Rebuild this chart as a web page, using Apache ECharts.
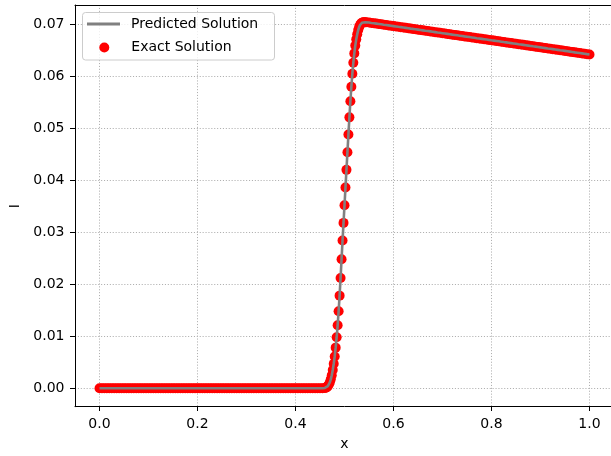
<!DOCTYPE html>
<html><head><meta charset="utf-8">
<script src="https://cdn.jsdelivr.net/npm/echarts@6/dist/echarts.min.js"></script>
<style>html,body{margin:0;padding:0;background:#fff;overflow:hidden}#c{width:614px;height:456px}</style>
</head><body><div id="c"></div><script>
// flat part (x < 0.46)
const xLow=[0,0.005,0.01,0.015,0.02,0.025,0.03,0.035,0.04,0.045,
0.05,0.055,0.06,0.065,0.07,0.075,0.08,0.085,0.09,0.095,
0.1,0.105,0.11,0.115,0.12,0.125,0.13,0.135,0.14,0.145,
0.15,0.155,0.16,0.165,0.17,0.175,0.18,0.185,0.19,0.195,
0.2,0.205,0.21,0.215,0.22,0.225,0.23,0.235,0.24,0.245,
0.25,0.255,0.26,0.265,0.27,0.275,0.28,0.285,0.29,0.295,
0.3,0.305,0.31,0.315,0.32,0.325,0.33,0.335,0.34,0.345,
0.35,0.355,0.36,0.365,0.37,0.375,0.38,0.385,0.39,0.395,
0.4,0.405,0.41,0.415,0.42,0.425,0.43,0.435,0.44,0.445,
0.45,0.455];
const yLow=[0,0,0,0,0,0,0,0,0,0,
0,0,0,0,0,0,0,0,0,0,
0,0,0,0,0,0,0,0,0,0,
0,0,0,0,0,0,0,0,0,0,
0,0,0,0,0,0,0,0,0,0,
0,0,0,0,0,0,0,0,0,0,
0,0,0,0,0,0,0,0,0,0,
0,0,0,0,0,0,0,0,0,0,
0,0,0,0,0,0,0,0,0,0,
0,0];
// steep front
const xMid=[0.46,0.462,0.464,0.466,0.468,0.47,0.472,0.474,0.476,0.478,
0.48,0.482,0.484,0.486,0.488,0.49,0.492,0.494,0.496,0.498,
0.5,0.502,0.504,0.506,0.508,0.51,0.512,0.514,0.516,0.518,
0.52,0.522,0.524,0.526,0.528,0.53,0.532,0.534,0.536,0.538,
0.54,0.542,0.544];
const yMid=[0.00005,0.0001,0.0002,0.0004,0.0007,0.0011,0.0017,0.0025,0.0035,0.0047,
0.0061,0.0078,0.0098,0.0121,0.0148,0.0178,0.0212,0.0248,0.0284,0.0318,
0.0352,0.0386,0.0420,0.0454,0.0488,0.0521,0.0552,0.0580,0.0605,0.0626,
0.0644,0.0659,0.0671,0.0681,0.0689,0.0695,0.0699,0.0702,0.0703,0.0704,
0.0704,0.0704,0.0704];
// decaying plateau
const xHigh=[0.55,0.555,0.56,0.565,0.57,0.575,0.58,0.585,0.59,0.595,
0.6,0.605,0.61,0.615,0.62,0.625,0.63,0.635,0.64,0.645,
0.65,0.655,0.66,0.665,0.67,0.675,0.68,0.685,0.69,0.695,
0.7,0.705,0.71,0.715,0.72,0.725,0.73,0.735,0.74,0.745,
0.75,0.755,0.76,0.765,0.77,0.775,0.78,0.785,0.79,0.795,
0.8,0.805,0.81,0.815,0.82,0.825,0.83,0.835,0.84,0.845,
0.85,0.855,0.86,0.865,0.87,0.875,0.88,0.885,0.89,0.895,
0.9,0.905,0.91,0.915,0.92,0.925,0.93,0.935,0.94,0.945,
0.95,0.955,0.96,0.965,0.97,0.975,0.98,0.985,0.99,0.995,1.0];
const yHigh=[0.07033,0.07026,0.07020,0.07013,0.07006,0.06999,0.06992,0.06986,0.06979,0.06972,
0.06965,0.06958,0.06951,0.06945,0.06938,0.06931,0.06924,0.06917,0.06911,0.06904,
0.06897,0.06890,0.06883,0.06876,0.06870,0.06863,0.06856,0.06849,0.06842,0.06836,
0.06829,0.06822,0.06815,0.06808,0.06801,0.06795,0.06788,0.06781,0.06774,0.06767,
0.06761,0.06754,0.06747,0.06740,0.06733,0.06727,0.06720,0.06713,0.06706,0.06699,
0.06692,0.06686,0.06679,0.06672,0.06665,0.06658,0.06652,0.06645,0.06638,0.06631,
0.06624,0.06617,0.06611,0.06604,0.06597,0.06590,0.06583,0.06576,0.06570,0.06563,
0.06556,0.06549,0.06542,0.06535,0.06529,0.06522,0.06515,0.06508,0.06501,0.06495,
0.06488,0.06481,0.06474,0.06467,0.06460,0.06454,0.06447,0.06440,0.06433,0.06426,0.06420];

const seriesNames=['Predicted Solution','Exact Solution'];
const axisNames={x:'x',y:'I'};

const xs=xLow.concat(xMid,xHigh);
const ys=yLow.concat(yMid,yHigh);
const pts=xs.map((x,i)=>[x,ys[i]]);

const FONT='DejaVu Sans';
const gridLine={color:'#b0b0b0',width:1,type:[1.1,1.8]};
const tickStyle={color:'#000',width:1};
const spine={show:true,onZero:false,lineStyle:{color:'#000',width:1}};
const chart=echarts.init(document.getElementById('c'),null,{renderer:'canvas'});
chart.setOption({
  animation:false,
  backgroundColor:'#ffffff',
  textStyle:{fontFamily:FONT},
  grid:[
    {left:75,top:5,right:0,bottom:49.3},
    {left:99.5,right:24.5,top:5,bottom:49.3},
    {left:75,right:0,top:24.3,bottom:67.8}
  ],
  xAxis:[
    {gridIndex:0,type:'value',min:-0.05,max:1.05,position:'bottom',axisLine:spine,axisTick:{show:false},axisLabel:{show:false},splitLine:{show:false}},
    {gridIndex:1,type:'value',min:0,max:1,interval:0.2,
     axisLine:{show:false,onZero:false},
     axisTick:{show:true,length:5,lineStyle:tickStyle},
     axisLabel:{margin:11,color:'#000',fontSize:14,fontFamily:FONT,formatter:v=>v.toFixed(1)},
     splitLine:{show:true,lineStyle:gridLine},
     name:axisNames.x,nameLocation:'middle',nameGap:31,nameTextStyle:{color:'#000',fontSize:14,fontFamily:FONT}},
    {gridIndex:2,type:'value',show:false,min:0,max:1},
    {gridIndex:0,type:'value',min:-0.05,max:1.05,position:'top',axisLine:spine,axisTick:{show:false},axisLabel:{show:false},splitLine:{show:false}}
  ],
  yAxis:[
    {gridIndex:0,type:'value',min:-0.00356,max:0.07371,position:'left',axisLine:spine,axisTick:{show:false},axisLabel:{show:false},splitLine:{show:false}},
    {gridIndex:1,type:'value',show:false,min:0,max:1},
    {gridIndex:2,type:'value',min:0,max:0.07,interval:0.01,
     axisLine:{show:false,onZero:false},
     axisTick:{show:true,length:5,lineStyle:tickStyle},
     axisLabel:{margin:10.5,color:'#000',fontSize:14,fontFamily:FONT,formatter:v=>v.toFixed(2)},
     splitLine:{show:true,lineStyle:gridLine},
     name:axisNames.y,nameLocation:'middle',nameGap:49,nameRotate:90,nameTextStyle:{color:'#000',fontSize:14,fontFamily:FONT}}
  ],
  legend:[
    {data:[{name:seriesNames[0],icon:'rect',itemStyle:{color:'#808080'}}],left:87,top:17,padding:0,itemWidth:33,itemHeight:3,
     selectedMode:false,textStyle:{color:'#000',fontSize:14,fontFamily:FONT,padding:[0,0,0,6]}},
    {data:[{name:seriesNames[1],icon:'circle',itemStyle:{color:'#ff0000'}}],left:99.3,top:40.5,padding:0,itemWidth:10,itemHeight:10,
     selectedMode:false,textStyle:{color:'#000',fontSize:14,fontFamily:FONT,padding:[0,0,0,17]}}
  ],
  graphic:[
    {type:'rect',z:3,shape:{x:82.5,y:12.5,width:192,height:47.5,r:3},style:{fill:'rgba(255,255,255,0.8)',stroke:'#cccccc',lineWidth:1}}
  ],
  series:[
    {name:seriesNames[1],type:'scatter',xAxisIndex:0,yAxisIndex:0,data:pts,symbol:'circle',symbolSize:10,
     itemStyle:{color:'#ff0000',opacity:1},z:2,silent:true},
    {name:seriesNames[0],type:'line',xAxisIndex:0,yAxisIndex:0,data:pts,showSymbol:false,smooth:false,
     color:'#808080',itemStyle:{color:'#808080'},lineStyle:{color:'#808080',width:2.6},z:3,silent:true}
  ]
});
</script></body></html>
